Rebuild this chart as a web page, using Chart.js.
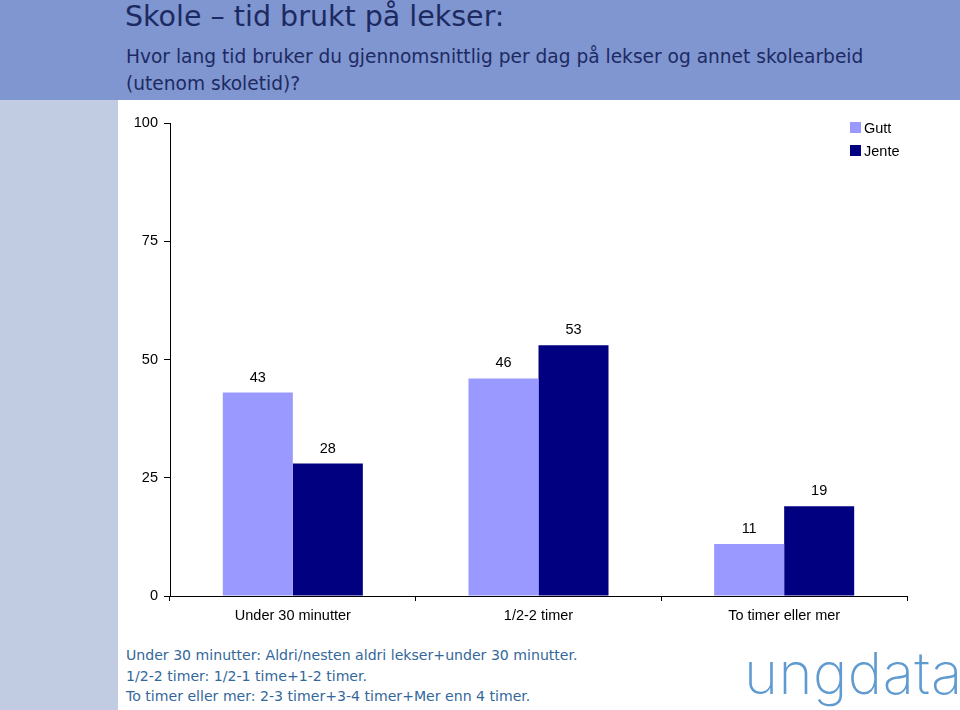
<!DOCTYPE html>
<html lang="no">
<head>
<meta charset="UTF-8">
<title>Skole – tid brukt på lekser</title>
<script src="https://cdn.jsdelivr.net/npm/chart.js"></script>
<style>
    body { margin: 0; width: 960px; height: 710px; position: relative; overflow: hidden; background: #fff; font-family: "DejaVu Sans", Verdana, sans-serif; }
    #header { position: absolute; left: 0; top: 0; width: 960px; height: 100px; background: #7f96d1; }
    #strip { position: absolute; left: 0; top: 100px; width: 118px; height: 610px; background: #c1cbe1; }
    #title { position: absolute; left: 125px; top: 0px; font-size: 28.5px; color: #1d2a62; white-space: nowrap; }
    #sub { position: absolute; left: 126px; top: 43px; font-size: 18.6px; line-height: 27px; color: #1d2a62; white-space: nowrap; }
    #wrap { position: absolute; left: 118px; top: 100px; width: 842px; height: 540px; }
    #legend { position: absolute; left: 850px; top: 116px; font: 14.5px "Liberation Sans", Arial, sans-serif; color: #000; }
    #legend div { height: 23px; display: flex; align-items: center; }
    #legend span { display: inline-block; width: 11px; height: 11px; margin-right: 3px; }
    #notes { position: absolute; left: 126px; top: 645px; font-size: 14.1px; line-height: 20.5px; color: #33679a; white-space: nowrap; }
    #logo { position: absolute; left: 744px; top: 638px; font: 200 58px Inter, "DejaVu Sans", sans-serif; color: #5f9bd0; letter-spacing: 0.5px; white-space: nowrap; }
</style>
</head>
<body>
<div id="header"></div>
<div id="strip"></div>
<div id="title">Skole – tid brukt på lekser:</div>
<div id="sub">Hvor lang tid bruker du gjennomsnittlig per dag på lekser og annet skolearbeid<br>(utenom skoletid)?</div>
<div id="wrap"><canvas id="chart" width="842" height="540"></canvas></div>
<div id="legend"></div>
<div id="notes">Under 30 minutter: Aldri/nesten aldri lekser+under 30 minutter.<br>1/2-2 timer: 1/2-1 time+1-2 timer.<br>To timer eller mer: 2-3 timer+3-4 timer+Mer enn 4 timer.</div>
<div id="logo">ungdata</div>
<script>
    const categories = ['Under 30 minutter', '1/2-2 timer', 'To timer eller mer'];
    const gutt = [43, 46, 11];
    const jente = [28, 53, 19];
    const seriesNames = ['Gutt', 'Jente'];
    const seriesColors = ['#9999ff', '#000080'];
    const yTicks = [0, 25, 50, 75, 100];

    const legend = document.getElementById('legend');
    seriesNames.forEach(function (name, i) {
        const row = document.createElement('div');
        row.innerHTML = '<span style="background:' + seriesColors[i] + '"></span>' + name;
        legend.appendChild(row);
    });

    const valueLabels = {
        id: 'valueLabels',
        afterDatasetsDraw(chart) {
            const ctx = chart.ctx;
            ctx.save();
            ctx.font = '14.5px "Liberation Sans", Arial, sans-serif';
            ctx.fillStyle = '#000';
            ctx.textAlign = 'center';
            ctx.textBaseline = 'middle';
            chart.data.datasets.forEach(function (ds, i) {
                chart.getDatasetMeta(i).data.forEach(function (bar, j) {
                    ctx.fillText(ds.data[j], bar.x, bar.y - 15);
                });
            });
            ctx.restore();
        }
    };

    const tickFont = { family: '"Liberation Sans", Arial, sans-serif', size: 14.5 };

    new Chart(document.getElementById('chart'), {
        type: 'bar',
        data: {
            labels: categories,
            datasets: [
                { label: seriesNames[0], data: gutt, backgroundColor: seriesColors[0] },
                { label: seriesNames[1], data: jente, backgroundColor: seriesColors[1] }
            ]
        },
        options: {
            responsive: false,
            animation: false,
            devicePixelRatio: 1,
            layout: { padding: { top: 23, right: 53, bottom: 0, left: 0 } },
            plugins: { legend: { display: false }, tooltip: { enabled: false } },
            datasets: { bar: { barPercentage: 1, categoryPercentage: 0.57 } },
            scales: {
                x: {
                    grid: { drawOnChartArea: false, color: '#000', tickLength: 5, offset: true },
                    border: { color: '#000' },
                    ticks: { color: '#000', font: tickFont, padding: 6, maxRotation: 0 },
                    afterFit(s) { s.height = 44; }
                },
                y: {
                    min: 0, max: 100,
                    afterBuildTicks(s) { s.ticks = yTicks.map(v => ({ value: v })); },
                    grid: { drawOnChartArea: false, color: '#000', tickLength: 6 },
                    border: { color: '#000' },
                    ticks: { color: '#000', font: tickFont, padding: 6 },
                    afterFit(s) { s.width = 52; }
                }
            }
        },
        plugins: [valueLabels]
    });
</script>
</body>
</html>
